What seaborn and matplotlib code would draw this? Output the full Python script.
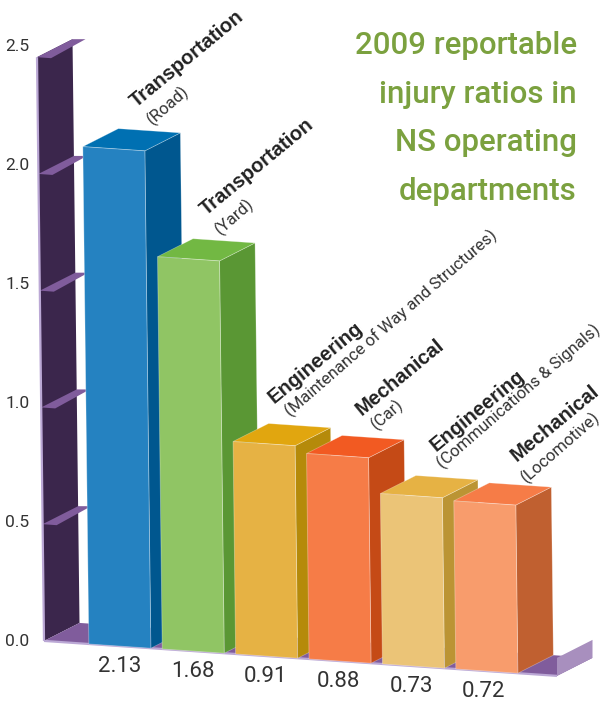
import numpy as np
import pandas as pd
import seaborn as sns
import matplotlib
matplotlib.use("Agg")
import matplotlib.pyplot as plt
from matplotlib.patches import Polygon
from matplotlib.transforms import Affine2D

departments = ["Transportation", "Transportation", "Engineering", "Mechanical", "Engineering", "Mechanical"]
subunits = ["(Road)", "(Yard)", "(Maintenance of Way and Structures)", "(Car)", "(Communications & Signals)", "(Locomotive)"]
ratios = [2.13, 1.68, 0.91, 0.88, 0.73, 0.72]
ratio_text = ["2.13", "1.68", "0.91", "0.88", "0.73", "0.72"]
yticks = [0.0, 0.5, 1.0, 1.5, 2.0, 2.5]
title_text = "2009 reportable\ninjury ratios in\nNS operating\ndepartments"

front_colors = ["#2582C1", "#90C564", "#E6B244", "#F67C47", "#EBC477", "#F89C6C"]
top_colors = ["#0070B2", "#72B843", "#E1A60F", "#F25A22", "#E6B244", "#F67C47"]
side_colors = ["#00578F", "#5A9734", "#B58A0A", "#C54A16", "#BB9434", "#C06030"]
label_offsets = [(53.5, 39), (48.5, 41), (41.5, 38), (55.5, 38), (55.5, 42), (62.5, 39)]
sub_offsets = [(70, 22), (63, 22), (57, 24), (70, 23), (62, 24), (73, 18)]

sns.set_theme(style="white")
plt.rcParams["font.family"] = ["Roboto", "DejaVu Sans"]

W, H = 604, 703
fig = plt.figure(figsize=(W / 100, H / 100), dpi=100)
ax = fig.add_axes([32 / W, 0, (W - 32) / W, 1])
ax.patch.set_alpha(0)

labels = [f"{d} {s}" for d, s in zip(departments, subunits)]
df = pd.DataFrame({"label": labels, "ratio": ratios})
sns.barplot(data=df, x="label", y="ratio", hue="label", palette=front_colors,
            saturation=1, width=0.845, legend=False, ax=ax, order=labels, hue_order=labels)
bars = sorted([p for p in ax.patches if p.get_height() > 0], key=lambda r: r.get_x())

PX_X, PX_Y = 73.4, 238.0
ax.set_xlim(-0.42 - 57 / PX_X, -0.42 + 515 / PX_X)
ax.set_ylim(-63 / PX_Y, 640 / PX_Y)
a, b, c, y0 = 2.8 / PX_X, 5 / PX_Y, 233.5 / PX_Y, -0.0256
shear = Affine2D(np.array([[1, -a, 0], [-b, c, y0], [0, 0, 1]]))
DX, DY = 35.5 / PX_X, 18 / PX_Y


def S(x, v):
    return x - a * v, -b * x + c * v + y0


def D(p, k=1.0):
    return p[0] + DX * k, p[1] + DY * k


WALL, SHELF, LIP, EDGE = "#3B264C", "#805C9C", "#A88FBE", "#BBA8D5"
x_left, x_right = -1.033, 5.956

# wall, floor, lip
p00, p01 = S(x_left, 0), S(x_left, yticks[-1])
ax.add_patch(Polygon([p00, p01, D(p01), D(p00)], fc=WALL, ec="none", zorder=1))
pr = S(x_right, 0)
ax.add_patch(Polygon([p00, D(p00), D(pr), pr], fc=SHELF, ec="none", zorder=1.2))
pr_up = (pr[0], pr[1] + 18 / PX_Y)
ax.add_patch(Polygon([pr, D(pr), D(pr_up, 1.0), pr_up], fc=LIP, ec="none", zorder=1.4))
for v in yticks[1:]:
    p = S(x_left, v)
    q = D(p)
    ax.add_patch(Polygon([p, q, (q[0] + 13 / PX_X, q[1]), (p[0] + 14 / PX_X, p[1] - 1 / PX_Y)],
                         fc=SHELF, ec="none", zorder=1.5))
ax.plot(*zip(p00, p01), color=EDGE, lw=1.6, zorder=1.6, solid_capstyle="butt")
ax.plot(*zip(p00, pr), color=EDGE, lw=1.6, zorder=1.6, solid_capstyle="butt")

# bars
line = (1, 1, 1, 0.35)
for i, r in enumerate(bars):
    x0, x1, v = r.get_x(), r.get_x() + r.get_width(), r.get_height()
    z = 2 + i
    r.set_transform(shear + ax.transData)
    r.set_zorder(z + 0.3)
    r.set_edgecolor(line)
    r.set_linewidth(0.6)
    bl, br, tl, tr = S(x0, 0), S(x1, 0), S(x0, v), S(x1, v)
    ax.add_patch(Polygon([br, tr, D(tr), D(br)], fc=side_colors[i], ec=line, lw=0.5, zorder=z + 0.1))
    ax.add_patch(Polygon([tl, tr, D(tr), D(tl)], fc=top_colors[i], ec=line, lw=0.5, zorder=z + 0.2))
    mid = S((x0 + x1) / 2, 0)
    ax.annotate(ratio_text[i], xy=mid, xytext=(-0.6 * i * 0.72, -9.5 * 0.72), textcoords="offset points",
                ha="center", va="top", fontsize=16, color="#333333")
    ax.annotate(departments[i], xy=tl, xytext=(label_offsets[i][0] * 0.72, label_offsets[i][1] * 0.72),
                textcoords="offset points", rotation=39.5, rotation_mode="anchor", ha="left", va="baseline",
                fontsize=14.5, fontweight="bold", family=["Liberation Sans", "DejaVu Sans"], color="#222222")
    ax.annotate(subunits[i], xy=tl, xytext=(sub_offsets[i][0] * 0.72, sub_offsets[i][1] * 0.72),
                textcoords="offset points", rotation=41, rotation_mode="anchor", ha="left", va="baseline",
                fontsize=12, color="#333333")

ax.set_xticks([])
ax.set_yticks(yticks)
ax.set_yticklabels([f"{t:.1f}" for t in yticks], fontsize=12.5, color="#333333")
ax.tick_params(axis="y", length=0, pad=2)
ax.set_xlabel("")
ax.set_ylabel("")
sns.despine(ax=ax, left=True, bottom=True)

fig.text(577 / W, 1 - 31 / H, title_text, ha="right", va="top", fontsize=22.5, fontweight="medium",
         color="#7BA13F", linespacing=1.85)

fig.savefig("out.png", dpi=100)
